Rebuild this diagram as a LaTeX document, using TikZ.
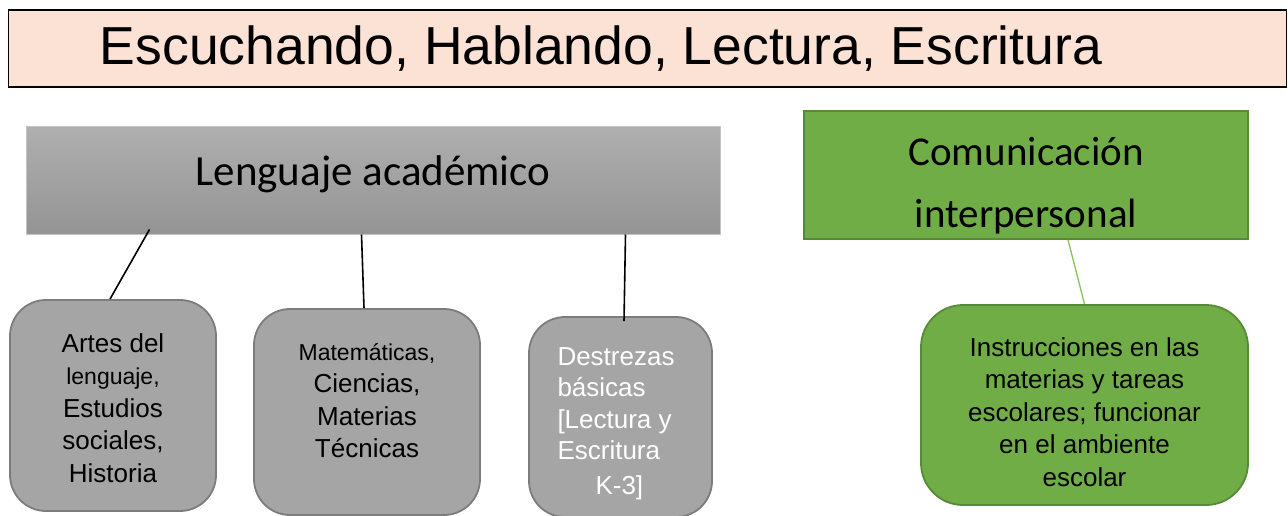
\documentclass[tikz,border=0pt]{standalone}
\usepackage{fontspec}
\setmainfont{Liberation Sans}
\newfontfamily\calibrifont{Carlito}
\usetikzlibrary{positioning}
\definecolor{peach}{HTML}{FBE2D5}
\definecolor{graytop}{HTML}{AFAFAF}
\definecolor{graybottom}{HTML}{949494}
\definecolor{grayedge}{HTML}{C4C4C4}
\definecolor{leafgreen}{HTML}{70AD47}
\definecolor{leafedge}{HTML}{558A36}
\definecolor{linkgreen}{HTML}{86C15A}
\definecolor{boxgray}{HTML}{A5A5A5}
\definecolor{boxedge}{HTML}{7C7C7C}
% text block whose first baseline sits #1 above the node centre
\newcommand{\boxtext}[3]{\raisebox{#1}[0pt][0pt]{\parbox[t]{#2}{#3}}}
\tikzset{%
  % Specifications for style of connectors:
   link/.style={
           black,
           line width=1.6pt,},
   greenlink/.style={
           link,
           draw=linkgreen,
           line width=1.3pt},
  % Specifications for style of nodes:
   banner/.style = {rectangle, draw=black, line width=1.5pt, fill=peach,
                  minimum width=1278pt, minimum height=77pt},
   heading/.style = {rectangle, draw=grayedge, line width=1pt,
                  top color=graytop, bottom color=graybottom,
                  minimum width=694pt, minimum height=107pt,
                  text centered, font=\calibrifont\fontsize{43}{52}\selectfont},
   greenhead/.style = {rectangle, draw=leafedge, line width=1.5pt, fill=leafgreen,
                  minimum width=444pt, minimum height=128pt,
                  align=center, font=\calibrifont\fontsize{41}{62}\selectfont},
   subject/.style = {rectangle, rounded corners=36pt, draw=boxedge, line width=1.8pt,
                  fill=boxgray, align=center,
                  font=\fontsize{26}{32.5}\selectfont},
   task/.style = {subject, rounded corners=42pt, draw=leafedge, fill=leafgreen},
}
\begin{document}
\begin{tikzpicture}[x=1pt, y=-1pt, inner sep=0pt]
  \useasboundingbox (0,0) rectangle (1288,516);

  % Specification of nodes (position, etc.)
  \node (title_block)	[banner]	at (647.5,48.5) {};
  \node (title_text)	[anchor=west, font=\fontsize{53.5}{60}\selectfont] at ([xshift=92pt]title_block.west) {Escuchando, Hablando, Lectura, Escritura};

  \node (lang_block)	[heading]	at (373,180.5) {\raisebox{-5pt}[0pt][0pt]{Lenguaje académico}};
  \node (comm_block)	[greenhead]	at (1026,175)
        {\boxtext{9pt}{420pt}{\centering Comunicación\\interpersonal}};

  \node (art_block)	[subject, minimum width=206pt, minimum height=211pt]	at (113,405.5)
        {\boxtext{53.5pt}{190pt}{\centering Artes del\\{\fontsize{23}{32.5}\selectfont lenguaje,}\\Estudios\\sociales,\\Historia}};
  \node (mat_block)	[subject, minimum width=226pt, minimum height=206pt]	at (367,412)
        {\boxtext{52pt}{210pt}{\centering {\fontsize{23}{32}\selectfont Matemáticas,}\\Ciencias,\\Materias\\Técnicas}};
  \node (dest_block)	[subject, minimum width=183pt, minimum height=200pt, text=white, font=\fontsize{26}{31.5}\selectfont]	at (620.5,417)
        {\boxtext{52pt}{126pt}{Destrezas\\básicas\\{[}Lectura~y\\Escritura\\[3.5pt]\hspace*{38pt}K-3]}};
  \node (instr_block)	[task, minimum width=327pt, minimum height=200pt]	at (1084.5,405)
        {\boxtext{49pt}{310pt}{\centering Instrucciones en las\\materias y tareas\\escolares; funcionar\\en el ambiente\\escolar}};

  % Connectors
	\draw[link]	([xshift=124pt, yshift=5pt]lang_block.south west) -- ([xshift=-3pt]art_block.north);
	\draw[link]	([xshift=336pt]lang_block.south west) -- ([xshift=-3pt]mat_block.north);
	\draw[link]	([xshift=600pt]lang_block.south west) -- ([xshift=3.5pt, yshift=-5pt]dest_block.north);
	\draw[greenlink]	([xshift=42pt]comm_block.south) -- (instr_block.north);

\end{tikzpicture}
\end{document}
